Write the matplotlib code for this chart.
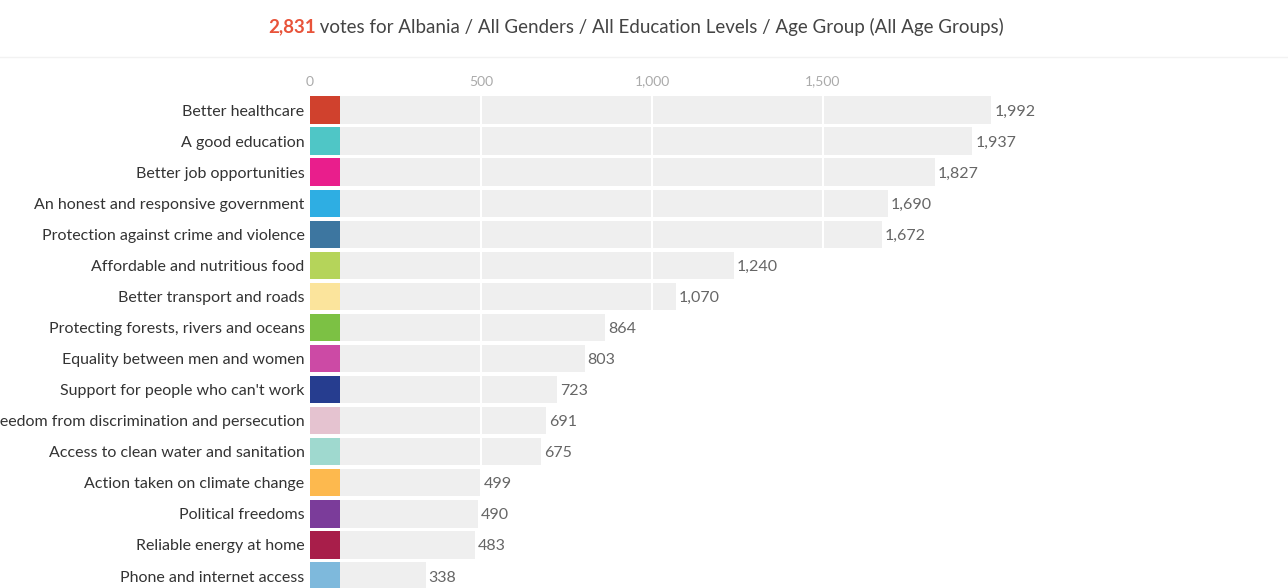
import matplotlib.pyplot as plt
from matplotlib.lines import Line2D

# Dữ liệu
categories = [
    "Better healthcare",
    "A good education",
    "Better job opportunities",
    "An honest and responsive government",
    "Protection against crime and violence",
    "Affordable and nutritious food",
    "Better transport and roads",
    "Protecting forests, rivers and oceans",
    "Equality between men and women",
    "Support for people who can't work",
    "Freedom from discrimination and persecution",
    "Access to clean water and sanitation",
    "Action taken on climate change",
    "Political freedoms",
    "Reliable energy at home",
    "Phone and internet access",
]
votes = [1992, 1937, 1827, 1690, 1672, 1240, 1070, 864, 803, 723, 691, 675, 499, 490, 483, 338]
colors = [
    "#d0412d", "#4fc6c6", "#e91e8c", "#2eaee3", "#3d76a0", "#b5d45a",
    "#fbe49c", "#7cc144", "#cc4aa5", "#263d8f", "#e5c3d0", "#9fd9cf",
    "#fdb94e", "#7b3c9a", "#a81e4a", "#7eb9dc",
]
ticks = [0, 500, 1000, 1500]
tick_labels = ["0", "500", "1,000", "1,500"]
total = "2,831"
subtitle = " votes for Albania / All Genders / All Education Levels / Age Group (All Age Groups)"

plt.rcParams['font.family'] = ['Lato', 'DejaVu Sans']

W, H = 1288, 588
fig = plt.figure(figsize=(W / 100, H / 100), dpi=100)

# trục: 0 ở x=310px, 0.342 px / phiếu
x0 = 310
px_per_unit = 171 / 500
ax_w = W - x0
ax_top = 94.5
row_h = 31.07
ax = fig.add_axes([x0 / W, 0, ax_w / W, (H - ax_top) / H])
ax.set_xlim(0, ax_w / px_per_unit)
ax.set_ylim(15 + (H - 576) / row_h, -0.5)

ypos = list(range(len(categories)))
ax.barh(ypos, votes, height=0.88, color="#efefef", zorder=1)
sq = 30 / px_per_unit
ax.barh(ypos, [sq] * len(ypos), height=0.88, color=colors, zorder=3)
for t in ticks[1:]:
    ax.axvline(t, color="white", lw=1.5, zorder=2)

# số phiếu ở cuối mỗi thanh
for y, v in zip(ypos, votes):
    ax.text(v + 3 / px_per_unit, y, f"{v:,}", va="center_baseline", ha="left",
            fontsize=11.5, color="#666666")

ax.set_yticks(ypos)
ax.set_yticklabels(categories, fontsize=11.5, color="#333333")
ax.tick_params(axis="y", length=0, pad=4)
ax.xaxis.tick_top()
ax.set_xticks(ticks)
ax.set_xticklabels(tick_labels, fontsize=10, color="#aaaaaa")
ax.tick_params(axis="x", length=0, pad=5)
for s in ax.spines.values():
    s.set_visible(False)

# đường kẻ mờ dưới tiêu đề
fig.add_artist(Line2D([0, 1], [1 - 57 / H, 1 - 57 / H], color="#f2f2f2", lw=1))

# tiêu đề hai màu, căn giữa
ty = 1 - 27 / H
t1 = fig.text(0, ty, total, fontsize=13.5, fontweight="bold", color="#e8533a", va="center")
t2 = fig.text(0, ty, subtitle, fontsize=13.5, color="#444444", va="center")
fig.canvas.draw()
r = fig.canvas.get_renderer()
w1 = t1.get_window_extent(r).width
w2 = t2.get_window_extent(r).width
start = 636 - (w1 + w2) / 2
t1.set_x(start / W)
t2.set_x((start + w1) / W)

fig.savefig("out.png", dpi=100)
